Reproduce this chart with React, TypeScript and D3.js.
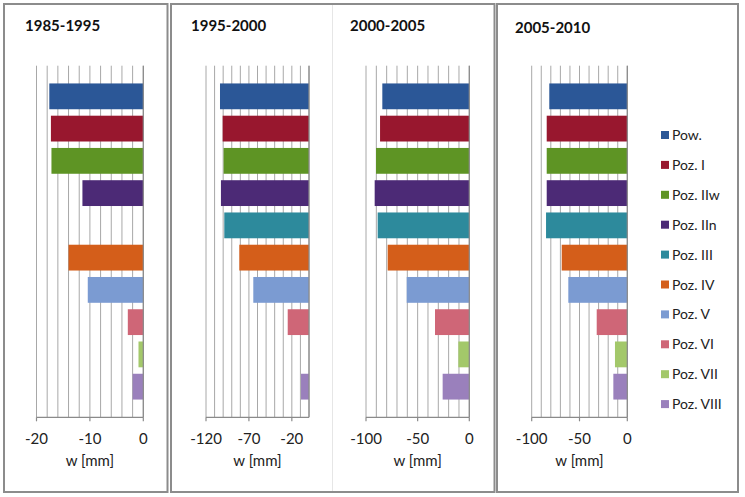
import React from "react";
import * as d3 from "d3";

const categories = ["Pow.", "Poz. I", "Poz. IIw", "Poz. IIn", "Poz. III", "Poz. IV", "Poz. V", "Poz. VI", "Poz. VII", "Poz. VIII"];
const periods = ["1985-1995", "1995-2000", "2000-2005", "2005-2010"];
const values1985_1995: (number | null)[] = [-17.6, -17.3, -17.2, -11.4, null, -14.0, -10.4, -2.9, -0.9, -2.0];
const values1995_2000: (number | null)[] = [-103.7, -100.6, -99.5, -102.6, -98.7, -81.2, -64.9, -24.8, null, -9.3];
const values2000_2005: (number | null)[] = [-84.2, -86.4, -90.3, -91.6, -88.7, -79.0, -60.6, -33.2, -10.6, -25.8];
const values2005_2010: (number | null)[] = [-81.6, -84.3, -84.3, -84.3, -85.0, -68.6, -61.7, -32.0, -12.9, -14.6];
const axisMins = [-20, -120, -100, -100];
const gridSteps = [2, 10, 10, 10];
const tickLabels = [[-20, -10, 0], [-120, -70, -20], [-100, -50, 0], [-100, -50, 0]];
const axisTitle = "w [mm]";
const colors = ["#2B5797", "#98172E", "#5E9424", "#4C2A76", "#2D8A9C", "#D45E1A", "#7B9BD2", "#CF6677", "#A3C86A", "#9A80BC"];

const seriesByPeriod = [values1985_1995, values1995_2000, values2000_2005, values2005_2010];

// layout
const plotX = [[36.5, 143.3], [206, 309], [366, 469.3], [531.7, 627.3]];
const titleX = [25, 191, 350, 515];
const titleY = [31, 31, 31, 33];
const plotTop = 65.7;
const plotBottom = 417.3;
const FONT = "Lato, 'Open Sans', sans-serif";

function Panel({ idx }: { idx: number }) {
  const [x0, x1] = plotX[idx];
  const x = d3.scaleLinear().domain([axisMins[idx], 0]).range([x0, x1]);
  const y = d3.scaleBand<string>().domain(categories).range([plotTop, plotBottom]).paddingInner(0.2).paddingOuter(0.55);
  const grid = d3.range(axisMins[idx], 0.0001, gridSteps[idx]);
  const vals = seriesByPeriod[idx];
  return (
    <g>
      <text x={titleX[idx]} y={titleY[idx]} fontFamily={FONT} fontWeight="bold" fontSize={15} fill="#111">{periods[idx]}</text>
      {grid.map((g) => (
        <line key={g} x1={x(g)} x2={x(g)} y1={plotTop} y2={plotBottom} stroke="#a8a8a8" strokeWidth={1} />
      ))}
      {vals.map((v, i) =>
        v == null ? null : (
          <rect key={i} x={x(v)} y={y(categories[i])!} width={x(0) - x(v)} height={y.bandwidth()} fill={colors[i]} />
        )
      )}
      <line x1={x(0)} x2={x(0)} y1={plotTop} y2={plotBottom} stroke="#8a8a8a" strokeWidth={1.2} />
      <line x1={x0} x2={x1} y1={plotBottom} y2={plotBottom} stroke="#8a8a8a" strokeWidth={1.2} />
      {tickLabels[idx].map((t) => (
        <g key={t}>
          <line x1={x(t)} x2={x(t)} y1={plotBottom} y2={plotBottom + 4} stroke="#8a8a8a" strokeWidth={1.2} />
          <text x={x(t)} y={444} textAnchor="middle" fontFamily={FONT} fontSize={15} fill="#222">{t}</text>
        </g>
      ))}
      <text x={(x0 + x1) / 2} y={466} textAnchor="middle" fontFamily={FONT} fontSize={15} fill="#222">{axisTitle}</text>
    </g>
  );
}

export default function App() {
  return (
    <svg width={745} height={497} style={{ position: "absolute", left: 0, top: 0, background: "#fff" }}>
      <rect x={0} y={0} width={745} height={497} fill="#fff" />
      <rect x={4} y={4} width={163.5} height={488} fill="none" stroke="#8c8c8c" strokeWidth={2} />
      <rect x={171} y={4} width={323.5} height={488} fill="none" stroke="#8c8c8c" strokeWidth={2} />
      <line x1={332.5} x2={332.5} y1={5} y2={491} stroke="#e6e6e6" strokeWidth={1} />
      <rect x={497} y={4} width={241} height={488} fill="none" stroke="#8c8c8c" strokeWidth={2} />
      {periods.map((p, i) => (
        <Panel key={p} idx={i} />
      ))}
      {categories.map((c, i) => (
        <g key={c} transform={`translate(661, ${135 + i * 29.9})`}>
          <rect x={0} y={-4} width={8} height={8} fill={colors[i]} />
          <text x={11} y={5} fontFamily={FONT} fontSize={14} fill="#222">{c}</text>
        </g>
      ))}
    </svg>
  );
}
